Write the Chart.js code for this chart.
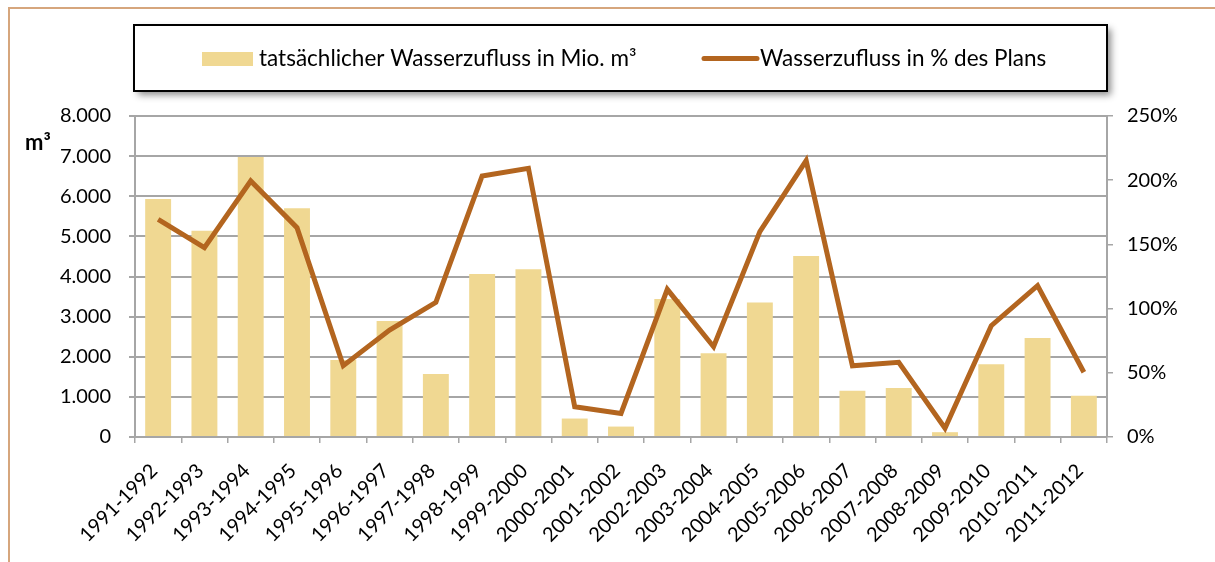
<!DOCTYPE html>
<html>
<head>
<meta charset="utf-8">
<script src="https://cdn.jsdelivr.net/npm/chart.js@4.4.1/dist/chart.umd.min.js"></script>
<style>
  html, body { margin: 0; padding: 0; background: #ffffff; }
  #wrap { position: relative; width: 1215px; height: 562px; }
</style>
</head>
<body>
<div id="wrap"><canvas id="c" width="1215" height="562"></canvas></div>
<script>
// ---- data ----
const categories = ['1991-1992','1992-1993','1993-1994','1994-1995','1995-1996','1996-1997','1997-1998','1998-1999','1999-2000','2000-2001','2001-2002','2002-2003','2003-2004','2004-2005','2005-2006','2006-2007','2007-2008','2008-2009','2009-2010','2010-2011','2011-2012'];
const inflowVolume = [5930,5140,6980,5700,1920,2890,1570,4060,4180,460,260,3440,2090,3350,4510,1150,1220,120,1810,2470,1030];
const inflowPercent = [169.5,147.4,199.4,163,55.5,83.3,104.9,203.3,209.2,23.6,18.4,115,70.3,160,215.2,55.5,58.2,6.8,86.7,117.9,50.4];
const seriesNames = ['tatsächlicher Wasserzufluss in Mio. m³', 'Wasserzufluss in % des Plans'];
const leftAxisTitle = 'm³';

const FONT = 'Lato, "Open Sans", sans-serif';
const BAR = '#F0D892';
const LINE = '#B3651F';
const GRID = '#A6A6A6';

function fmtThousands(v) {
  return String(Math.round(v)).replace(/\B(?=(\d{3})+(?!\d))/g, '.');
}

const decorPlugin = {
  id: 'decor',
  beforeDraw(chart) {
    const ctx = chart.ctx;
    ctx.save();
    // outer frame
    ctx.strokeStyle = '#D6A67D';
    ctx.lineWidth = 2;
    ctx.beginPath();
    ctx.moveTo(9, 562);
    ctx.lineTo(9, 8);
    ctx.lineTo(1215, 8);
    ctx.stroke();
    ctx.restore();
  },
  afterDraw(chart) {
    const ctx = chart.ctx;
    const barDs = chart.data.datasets.find(d => d.type === 'bar');
    const lineDs = chart.data.datasets.find(d => d.type === 'line');
    ctx.save();
    // legend box with shadow
    const bx = 134, by = 25, bw = 973, bh = 66;
    ctx.shadowColor = 'rgba(0,0,0,0.45)';
    ctx.shadowBlur = 7;
    ctx.shadowOffsetX = 4;
    ctx.shadowOffsetY = 4;
    ctx.fillStyle = '#ffffff';
    ctx.fillRect(bx, by, bw, bh);
    ctx.shadowColor = 'transparent';
    ctx.strokeStyle = '#000000';
    ctx.lineWidth = 2;
    ctx.strokeRect(bx, by, bw, bh);
    // item 1: bar swatch
    ctx.fillStyle = barDs.backgroundColor;
    ctx.fillRect(202, 52, 51, 14);
    ctx.fillStyle = '#000';
    ctx.font = '22.5px ' + FONT;
    ctx.textBaseline = 'alphabetic';
    ctx.textAlign = 'left';
    ctx.fillText(barDs.label, 259, 66);
    // item 2: line swatch
    ctx.strokeStyle = lineDs.borderColor;
    ctx.lineWidth = 5;
    ctx.lineCap = 'round';
    ctx.beginPath();
    ctx.moveTo(704, 58.5);
    ctx.lineTo(757, 58.5);
    ctx.stroke();
    ctx.fillText(lineDs.label, 760, 66);
    // left axis title
    ctx.font = 'bold 22px ' + FONT;
    ctx.fillText(leftAxisTitle, 25, chart.chartArea.top + 34);
    ctx.restore();
  }
};

new Chart(document.getElementById('c'), {
  data: {
    labels: categories,
    datasets: [
      {
        type: 'bar',
        label: seriesNames[0],
        data: inflowVolume,
        yAxisID: 'y',
        backgroundColor: BAR,
        borderWidth: 0,
        categoryPercentage: 1,
        barPercentage: 0.56,
        order: 1
      },
      {
        type: 'line',
        label: seriesNames[1],
        data: inflowPercent,
        yAxisID: 'y1',
        borderColor: LINE,
        backgroundColor: LINE,
        borderWidth: 5,
        pointRadius: 0,
        tension: 0,
        borderJoinStyle: 'miter',
        order: 0
      }
    ]
  },
  options: {
    responsive: false,
    animation: false,
    devicePixelRatio: 1,
    layout: { padding: { top: 116, left: 0, right: 0, bottom: 0 } },
    plugins: {
      legend: { display: false },
      tooltip: { enabled: false },
      title: { display: false }
    },
    scales: {
      x: {
        offset: true,
        grid: {
          offset: true,
          drawOnChartArea: false,
          drawTicks: true,
          tickLength: 6,
          color: GRID,
          lineWidth: 1.5
        },
        border: { display: true, color: GRID, width: 2 },
        ticks: {
          autoSkip: false,
          minRotation: 45,
          maxRotation: 45,
          labelOffset: -4,
          padding: 16,
          color: '#000',
          font: { family: FONT, size: 20 }
        },
        afterFit(scale) { scale.height = 125; }
      },
      y: {
        position: 'left',
        min: 0,
        max: 8000,
        ticks: {
          stepSize: 1000,
          padding: 18,
          color: '#000',
          font: { family: FONT, size: 20 },
          callback: (v) => fmtThousands(v)
        },
        grid: {
          color: GRID,
          lineWidth: 2,
          tickLength: 6,
          drawTicks: true
        },
        border: { display: true, color: GRID, width: 2 },
        afterFit(scale) { scale.width = 135; }
      },
      y1: {
        position: 'right',
        min: 0,
        max: 250,
        ticks: {
          stepSize: 50,
          padding: 14,
          color: '#000',
          font: { family: FONT, size: 20 },
          callback: (v) => v + '%'
        },
        grid: {
          drawOnChartArea: false,
          color: GRID,
          lineWidth: 1.5,
          tickLength: 6
        },
        border: { display: true, color: GRID, width: 2 },
        afterFit(scale) { scale.width = 108; }
      }
    }
  },
  plugins: [decorPlugin]
});
</script>
</body>
</html>
